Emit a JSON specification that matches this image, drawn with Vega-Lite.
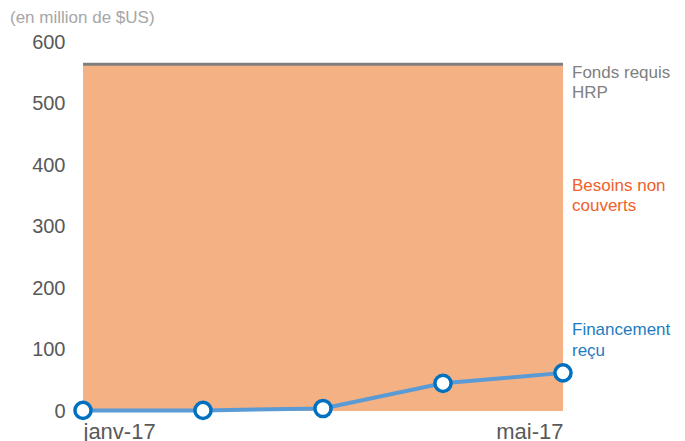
{
  "$schema": "https://vega.github.io/schema/vega-lite/v6.json",
  "width": 480,
  "height": 369,
  "autosize": {"type": "none"},
  "padding": {"left": 83, "top": 42, "right": 122, "bottom": 30},
  "background": "white",
  "config": {
    "font": "Liberation Sans",
    "view": {"stroke": null}
  },
  "title": {
    "text": "(en million de $US)",
    "anchor": "start",
    "frame": "group",
    "dx": -73,
    "offset": 5,
    "fontSize": 17,
    "fontWeight": "normal",
    "color": "#A6A6A6",
    "font": "Liberation Sans"
  },
  "data": {
    "values": [
      {"mois": "janv-17", "requis": 564, "recu": 1},
      {"mois": "févr-17", "requis": 564, "recu": 1},
      {"mois": "mars-17", "requis": 564, "recu": 4},
      {"mois": "avr-17", "requis": 564, "recu": 45},
      {"mois": "mai-17", "requis": 564, "recu": 62}
    ]
  },
  "encoding": {
    "x": {
      "field": "mois",
      "type": "ordinal",
      "sort": ["janv-17", "févr-17", "mars-17", "avr-17", "mai-17"],
      "scale": {"type": "point", "padding": 0},
      "axis": {
        "title": null,
        "values": ["janv-17", "mai-17"],
        "labelFlush": true,
        "labelAngle": 0,
        "labelFontSize": 22,
        "labelColor": "#595959",
        "labelPadding": 10,
        "ticks": false,
        "domain": false,
        "grid": false
      }
    }
  },
  "layer": [
    {
      "mark": {"type": "area", "color": "#F4B183"},
      "encoding": {
        "y": {
          "field": "requis",
          "type": "quantitative",
          "scale": {"domain": [0, 600]},
          "axis": {
            "title": null,
            "values": [0, 100, 200, 300, 400, 500, 600],
            "labelFontSize": 20,
            "labelColor": "#595959",
            "labelPadding": 18,
            "ticks": false,
            "domain": false,
            "grid": false
          }
        }
      }
    },
    {
      "mark": {"type": "line", "color": "#7F7F7F", "strokeWidth": 3},
      "encoding": {"y": {"field": "requis", "type": "quantitative"}}
    },
    {
      "mark": {
        "type": "line",
        "color": "#5B9BD5",
        "strokeWidth": 4,
        "point": {"filled": true, "fill": "white", "stroke": "#0070C0", "strokeWidth": 3.5, "size": 260, "opacity": 1}
      },
      "encoding": {"y": {"field": "recu", "type": "quantitative"}}
    },
    {
      "data": {
        "values": [
          {"mois": "mai-17", "v": 550, "label": ["Fonds requis", "HRP"], "cat": "requis"},
          {"mois": "mai-17", "v": 366, "label": ["Besoins non", "couverts"], "cat": "besoins"},
          {"mois": "mai-17", "v": 131, "label": ["Financement", "reçu"], "cat": "recu"}
        ]
      },
      "mark": {"type": "text", "align": "left", "baseline": "middle", "dx": 9, "fontSize": 17, "lineHeight": 20.5},
      "encoding": {
        "y": {"field": "v", "type": "quantitative"},
        "text": {"field": "label"},
        "color": {
          "field": "cat",
          "type": "nominal",
          "scale": {"domain": ["requis", "besoins", "recu"], "range": ["#808080", "#F0602A", "#1F7BC1"]},
          "legend": null
        }
      }
    }
  ]
}
